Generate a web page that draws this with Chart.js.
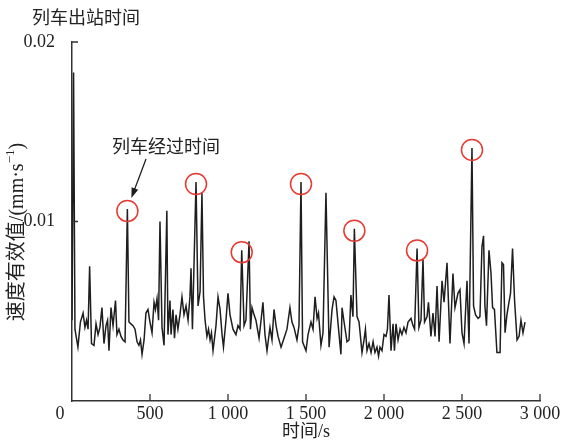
<!DOCTYPE html>
<html>
<head>
<meta charset="utf-8">
<script src="https://cdn.jsdelivr.net/npm/chart.js@4/dist/chart.umd.min.js"></script>
<style>
  html, body { margin: 0; padding: 0; background: #fff; }
  #wrap { width: 565px; height: 448px; }
</style>
</head>
<body>
<div id="wrap"><canvas id="rmsChart" width="565" height="448"></canvas></div>
<script>
/* 列车振动速度有效值 — time series */

const timeS = [0,10,19,38,54,71,83,93,103,113,125,141,154,167,179,192,205,218,228,237,250,263,279,288,301,314,327,340,355,365,378,391,404,417,429,439,449,462,474,487,500,513,526,535,545,555,564,577,590,608,615,628,635,647,657,667,679,692,705,718,731,744,756,763,772,795,808,821,833,843,853,865,875,885,894,904,923,936,949,962,971,987,1000,1013,1032,1051,1064,1077,1088,1103,1115,1135,1144,1154,1167,1179,1199,1212,1224,1237,1250,1269,1282,1295,1308,1321,1340,1359,1378,1397,1410,1423,1442,1455,1468,1478,1500,1513,1532,1545,1558,1571,1580,1596,1609,1628,1648,1667,1680,1692,1712,1724,1731,1744,1763,1776,1788,1801,1810,1827,1840,1859,1872,1881,1891,1904,1917,1930,1942,1955,1965,1974,1987,2000,2013,2022,2032,2045,2058,2067,2077,2090,2103,2115,2128,2141,2154,2173,2186,2196,2212,2224,2237,2250,2260,2276,2285,2301,2314,2327,2340,2353,2372,2385,2404,2423,2442,2455,2474,2487,2500,2513,2532,2545,2564,2574,2587,2603,2615,2628,2638,2647,2657,2673,2686,2696,2708,2724,2744,2756,2766,2776,2788,2801,2811,2824,2837,2853,2866,2878,2891,2904];

const rmsV = [0.0045,0.0183,0.0040,0.0030,0.0044,0.0049,0.0041,0.0045,0.0040,0.0075,0.0032,0.0031,0.0043,0.0037,0.0041,0.0052,0.0032,0.0042,0.0045,0.0028,0.0052,0.0042,0.0056,0.0037,0.0040,0.0036,0.0034,0.0033,0.0107,0.0044,0.0043,0.0042,0.0040,0.0033,0.0031,0.0034,0.0026,0.0034,0.0049,0.0051,0.0044,0.0038,0.0055,0.0051,0.0057,0.0045,0.0100,0.0041,0.0031,0.0106,0.0037,0.0056,0.0037,0.0051,0.0035,0.0048,0.0040,0.0048,0.0058,0.0048,0.0053,0.0045,0.0058,0.0074,0.0040,0.0122,0.0053,0.0061,0.0116,0.0058,0.0045,0.0036,0.0040,0.0034,0.0038,0.0028,0.0042,0.0058,0.0051,0.0037,0.0030,0.0045,0.0060,0.0048,0.0040,0.0037,0.0042,0.0040,0.0084,0.0042,0.0045,0.0089,0.0040,0.0052,0.0048,0.0045,0.0035,0.0045,0.0055,0.0037,0.0028,0.0041,0.0034,0.0051,0.0042,0.0036,0.0030,0.0035,0.0040,0.0052,0.0044,0.0041,0.0034,0.0042,0.0122,0.0033,0.0028,0.0037,0.0044,0.0040,0.0058,0.0046,0.0049,0.0031,0.0038,0.0116,0.0030,0.0051,0.0058,0.0056,0.0037,0.0026,0.0052,0.0044,0.0033,0.0034,0.0059,0.0047,0.0096,0.0047,0.0044,0.0027,0.0034,0.0040,0.0028,0.0032,0.0027,0.0033,0.0027,0.0030,0.0025,0.0030,0.0028,0.0037,0.0036,0.0040,0.0059,0.0028,0.0043,0.0028,0.0043,0.0034,0.0040,0.0037,0.0041,0.0038,0.0044,0.0046,0.0042,0.0040,0.0085,0.0041,0.0045,0.0079,0.0044,0.0047,0.0055,0.0036,0.0049,0.0036,0.0064,0.0033,0.0067,0.0055,0.0077,0.0032,0.0071,0.0052,0.0060,0.0062,0.0038,0.0032,0.0067,0.0032,0.0141,0.0053,0.0048,0.0046,0.0047,0.0086,0.0092,0.0053,0.0042,0.0084,0.0071,0.0052,0.0051,0.0027,0.0027,0.0077,0.0076,0.0038,0.0048,0.0055,0.0060,0.0085,0.0056,0.0034,0.0036,0.0045,0.0038,0.0044];

const xTicks = [0, 500, 1000, 1500, 2000, 2500, 3000];
const xTickLabels = ['0', '500', '1 000', '1 500', '2 000', '2 500', '3 000'];
const yTicks = [0.01, 0.02];
const yTickLabels = ['0.01', '0.02'];

// peaks marked as train passages
const passTimes = [355, 795, 1088, 1468, 1810, 2212, 2564];

const FONT = '"Liberation Serif", "Noto Sans CJK SC", serif';
const INK = '#1e1e1e';
const RED = '#e53a32';

/* ── ANNOTATION / AXIS DECORATION PLUGIN ─────────────────────── */
const decorations = {
  id: 'decorations',
  afterDraw(chart) {
    const { ctx, chartArea, scales: { x, y } } = chart;
    ctx.save();

    // inward ticks
    ctx.strokeStyle = '#333';
    ctx.lineWidth = 1.3;
    ctx.beginPath();
    xTicks.forEach(v => {
      if (v === 0) return;
      const px = x.getPixelForValue(v);
      ctx.moveTo(px, chartArea.bottom);
      ctx.lineTo(px, chartArea.bottom - 7);
    });
    yTicks.forEach(v => {
      const py = y.getPixelForValue(v);
      ctx.moveTo(chartArea.left, py);
      ctx.lineTo(chartArea.left + 6, py);
    });
    ctx.stroke();

    // x tick labels (0 sits left of the origin)
    ctx.fillStyle = '#222';
    ctx.font = '18px ' + FONT;
    ctx.textAlign = 'center';
    ctx.textBaseline = 'middle';
    xTicks.forEach((v, i) => {
      let px = x.getPixelForValue(v);
      if (v === 0) px -= 12;
      ctx.fillText(xTickLabels[i], px, chartArea.bottom + 13);
    });

    // x title
    ctx.fillText('时间/s', (chartArea.left + chartArea.right) / 2, 432);

    // y title, rotated, with superscript
    ctx.save();
    ctx.translate(18, 232);
    ctx.rotate(-Math.PI / 2);
    const mainTxt = '速度有效值/(mm·s';
    const supTxt = '−1';
    const endTxt = ')';
    ctx.font = '20px ' + FONT;
    const w1 = ctx.measureText(mainTxt).width;
    const w3 = ctx.measureText(endTxt).width;
    ctx.font = '13px ' + FONT;
    const w2 = ctx.measureText(supTxt).width;
    let sx = -(w1 + w2 + w3) / 2;
    ctx.textAlign = 'left';
    ctx.font = '20px ' + FONT;
    ctx.fillText(mainTxt, sx, 0);
    sx += w1;
    ctx.font = '13px ' + FONT;
    ctx.fillText(supTxt, sx, -7);
    sx += w2;
    ctx.font = '20px ' + FONT;
    ctx.fillText(endTxt, sx, 0);
    ctx.restore();

    // annotation texts
    ctx.textAlign = 'left';
    ctx.font = '18px ' + FONT;
    ctx.fillText('列车出站时间', 32, 19);
    ctx.fillText('列车经过时间', 112, 148);

    // red circles on passage peaks
    ctx.strokeStyle = RED;
    ctx.lineWidth = 1.5;
    passTimes.forEach(t => {
      const i = timeS.indexOf(t);
      const px = x.getPixelForValue(t);
      const py = y.getPixelForValue(rmsV[i]);
      ctx.beginPath();
      ctx.arc(px, py + 2, 10.5, 0, Math.PI * 2);
      ctx.stroke();
    });

    // arrow to first passage
    const tx = x.getPixelForValue(passTimes[0]) + 4;
    const ty = y.getPixelForValue(rmsV[timeS.indexOf(passTimes[0])]) - 11;
    const fx = 146, fy = 159;
    const ang = Math.atan2(ty - fy, tx - fx);
    ctx.strokeStyle = INK;
    ctx.fillStyle = INK;
    ctx.lineWidth = 1.3;
    ctx.beginPath();
    ctx.moveTo(fx, fy);
    ctx.lineTo(tx - 7 * Math.cos(ang), ty - 7 * Math.sin(ang));
    ctx.stroke();
    ctx.beginPath();
    ctx.moveTo(tx, ty);
    ctx.lineTo(tx - 10 * Math.cos(ang) + 3.5 * Math.sin(ang), ty - 10 * Math.sin(ang) - 3.5 * Math.cos(ang));
    ctx.lineTo(tx - 10 * Math.cos(ang) - 3.5 * Math.sin(ang), ty - 10 * Math.sin(ang) + 3.5 * Math.cos(ang));
    ctx.closePath();
    ctx.fill();

    ctx.restore();
  }
};

/* ── CHART ───────────────────────────────────────────────────── */
const ctx = document.getElementById('rmsChart').getContext('2d');
new Chart(ctx, {
  type: 'line',
  data: {
    datasets: [{
      data: timeS.map((t, i) => ({ x: t, y: rmsV[i] })),
      borderColor: INK,
      borderWidth: 1.5,
      pointRadius: 0,
      tension: 0,
      fill: false
    }]
  },
  options: {
    responsive: false,
    animation: false,
    devicePixelRatio: 1,
    layout: { padding: { top: 42, right: 25, left: 0, bottom: 0 } },
    plugins: {
      legend: { display: false },
      tooltip: { enabled: false }
    },
    scales: {
      x: {
        type: 'linear',
        min: 0,
        max: 3000,
        grid: { display: false },
        border: { display: true, color: '#333', width: 1.5 },
        ticks: { display: false },
        afterFit: s => { s.height = 47; }
      },
      y: {
        min: 0,
        max: 0.02,
        grid: { display: false },
        border: { display: true, color: '#333', width: 1.5 },
        afterBuildTicks: s => { s.ticks = yTicks.map(v => ({ value: v })); },
        ticks: {
          color: '#222',
          padding: 9,
          font: { family: FONT, size: 18 },
          callback: v => yTickLabels[yTicks.indexOf(v)] ?? ''
        },
        afterFit: s => { s.width = 72; }
      }
    }
  },
  plugins: [decorations]
});
</script>
</body>
</html>
